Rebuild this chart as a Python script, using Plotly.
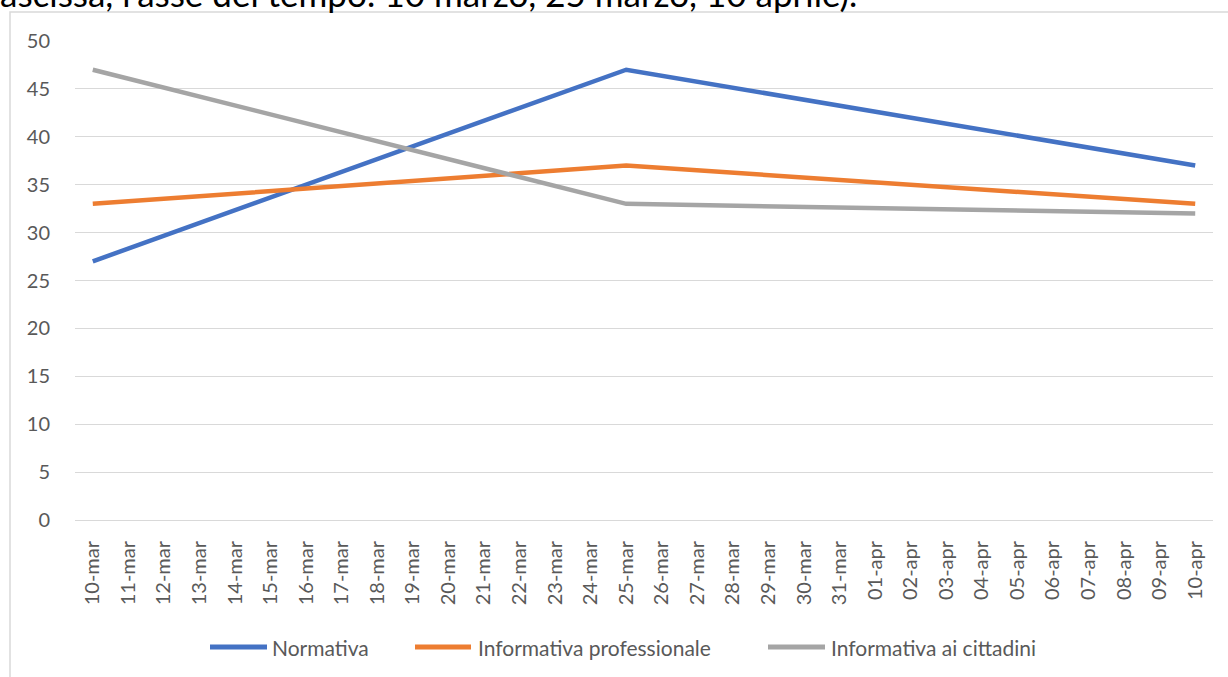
import plotly.graph_objects as go

# all day categories on the axis
giorni_mar = ["%02d-mar" % d for d in range(10, 32)]
giorni_apr = ["%02d-apr" % d for d in range(1, 11)]
categorie = giorni_mar + giorni_apr

date_rilevate = ["10-mar", "25-mar", "10-apr"]
normativa = [27, 47, 37]
informativa_prof = [33, 37, 33]
informativa_citt = [47, 33, 32]

serie = [
    ("Normativa", normativa, "#4472C4"),
    ("Informativa professionale", informativa_prof, "#ED7D31"),
    ("Informativa ai cittadini", informativa_citt, "#A5A5A5"),
]

# plot area in pixels: x 75..1213, y 41..520
L, R, T, B = 75, 1213, 41, 520
W, H = R - L, B - T

def px(x):
    return (x - L) / W

def py(y):
    return (B - y) / H

fig = go.Figure()
for nome, valori, colore in serie:
    fig.add_trace(go.Scatter(x=date_rilevate, y=valori, name=nome, mode="lines",
                             line=dict(color=colore, width=4.5), showlegend=False))

fnt = "Lato, Noto Sans, sans-serif"
tick_font = dict(family=fnt, size=20, color="#595959")

fig.update_layout(
    width=1228, height=677,
    margin=dict(l=L, r=1228 - R, t=T, b=677 - B),
    paper_bgcolor="white", plot_bgcolor="white",
    showlegend=False,
    xaxis=dict(type="category", categoryorder="array", categoryarray=categorie,
               range=[-0.5, len(categorie) - 0.5], tickangle=-90, tickfont=tick_font,
               showgrid=False, showline=True, linecolor="#D9D9D9", linewidth=1,
               ticks="outside", ticklen=12, tickcolor="rgba(0,0,0,0)", automargin=False),
    yaxis=dict(range=[0, 50], dtick=5, tickfont=tick_font, showgrid=True,
               gridcolor="#D9D9D9", gridwidth=1, zeroline=False,
               ticks="outside", ticklen=20, tickcolor="rgba(0,0,0,0)", automargin=False),
)

# legend drawn by hand (longer line keys as in the original)
leg_x = [(210, 267, 270), (415, 471, 476), (768, 825, 829)]
for (nome, valori, colore), (x0, x1, xt) in zip(serie, leg_x):
    fig.add_shape(type="line", xref="paper", yref="paper", x0=px(x0), x1=px(x1),
                  y0=py(647), y1=py(647), line=dict(color=colore, width=5))
    fig.add_annotation(text=nome, xref="paper", yref="paper", x=px(xt), y=py(647),
                       xanchor="left", yanchor="middle", showarrow=False,
                       font=dict(family=fnt, size=21, color="#595959"))

# chart frame (partly outside the window, as in the screenshot)
fig.add_shape(type="rect", xref="paper", yref="paper",
              x0=px(10), x1=px(1260), y0=py(720), y1=py(12),
              line=dict(color="#D9D9D9", width=1.5), layer="below")

# cropped line of text above the chart
fig.add_annotation(text="ascissa, l'asse del tempo: 10 marzo, 25 marzo, 10 aprile).",
                   xref="paper", yref="paper", x=px(-2), xanchor="left",
                   y=py(16), yanchor="bottom", showarrow=False,
                   font=dict(family=fnt, size=35, color="black"))

# no page margin, so the figure fills the window exactly
fig.write_html("out.html", config={"displayModeBar": False},
               post_script="document.body.style.margin='0';")
